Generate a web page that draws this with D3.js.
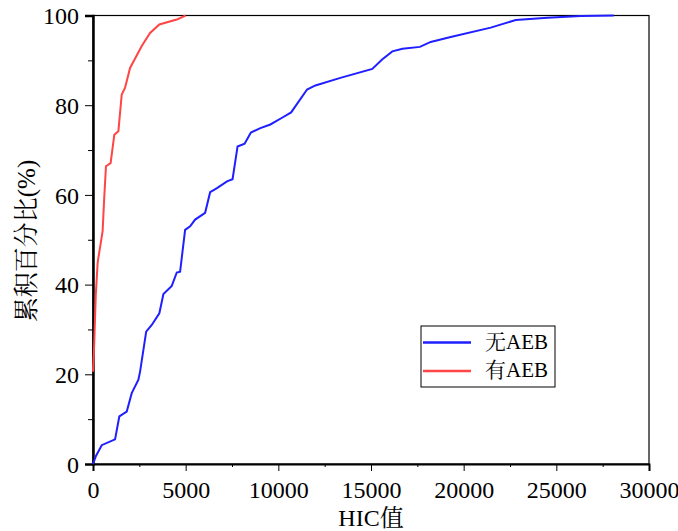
<!DOCTYPE html>
<html><head><meta charset="utf-8">
<script src="https://cdn.jsdelivr.net/npm/d3@7"></script>
<style>
body{margin:0;background:#fff;}
</style></head><body>
<svg id="c" width="678" height="531"></svg>
<script>
// Data
const seriesNames = ["无AEB", "有AEB"];
const seriesColors = ["#1f1fff", "#ff4545"];
const blueHIC = [0,160,470,1190,1420,1820,2090,2450,2540,2870,3170,3580,3800,4250,4520,4700,4970,5240,5510,6050,6320,6690,7230,7530,7800,8180,8520,9030,9570,10200,10690,11550,12000,13350,15070,15600,16150,16700,17640,18220,19300,21460,22810,24520,26320,28100];
const bluePct = [0,1.8,4.2,5.5,10.6,11.7,15.8,18.8,20.6,29.5,31,33.6,37.9,39.7,42.7,42.9,52.2,53,54.5,56,60.6,61.5,63,63.5,70.8,71.4,73.9,74.9,75.7,77.2,78.4,83.5,84.4,86.1,88.1,90.2,92,92.6,93,94.1,95.2,97.3,99,99.5,99.9,100];
const redHIC = [0,50,150,250,290,420,520,600,700,950,1150,1370,1550,1730,2000,2630,3080,3580,4520,5000];
const redPct = [20.6,25,37.7,44.8,46,49.3,52,58.9,66.4,67.1,73.4,74.2,82.4,83.9,88.3,93.2,96.1,98,99.1,100];
const xTicks = [0,5000,10000,15000,20000,25000,30000];
const xMinor = [2500,7500,12500,17500,22500,27500];
const yTicks = [0,20,40,60,80,100];
const yMinor = [10,30,50,70,90];
const xTitle = "HIC值";
const yTitle = "累积百分比(%)";

const FONT = "'Liberation Serif', 'Noto Serif CJK SC', 'Noto Sans CJK SC', serif";
const svg = d3.select("#c");
const L=93, R=649, T=15.5, B=464;
const x = d3.scaleLinear().domain([0,30000]).range([L,R]);
const y = d3.scaleLinear().domain([0,100]).range([B,T]);

// frame
svg.append("rect").attr("x",L).attr("y",T).attr("width",R-L).attr("height",B-T)
  .attr("fill","none").attr("stroke","#000").attr("stroke-width",1.2);

// x axis
const xa = svg.append("g").attr("transform",`translate(0,${B})`)
  .call(d3.axisBottom(x).tickValues(xTicks).tickSize(7).tickPadding(10).tickFormat(d3.format("d")));
xa.select(".domain").attr("stroke-width",2);
xa.selectAll("text").attr("font-family",FONT).attr("font-size",24).attr("fill","#000");
svg.append("g").attr("transform",`translate(0,${B})`)
  .call(d3.axisBottom(x).tickValues(xMinor).tickSize(3).tickFormat(""))
  .select(".domain").remove();

// y axis
const ya = svg.append("g").attr("transform",`translate(${L},0)`)
  .call(d3.axisLeft(y).tickValues(yTicks).tickSize(8).tickPadding(6));
ya.select(".domain").attr("stroke-width",2.5);
ya.selectAll("text").attr("font-family",FONT).attr("font-size",24).attr("fill","#000").attr("dy","0.34em");
svg.append("g").attr("transform",`translate(${L},0)`)
  .call(d3.axisLeft(y).tickValues(yMinor).tickSize(5).tickFormat(""))
  .select(".domain").remove();

// lines
const line = d3.line().x(d=>x(d[0])).y(d=>y(d[1]));
const blue = blueHIC.map((h,i)=>[h,bluePct[i]]);
const red = redHIC.map((h,i)=>[h,redPct[i]]);
svg.append("path").datum(blue).attr("d",line).attr("fill","none")
  .attr("stroke",seriesColors[0]).attr("stroke-width",2);
svg.append("path").datum(red).attr("d",line).attr("fill","none")
  .attr("stroke",seriesColors[1]).attr("stroke-width",2);

// titles
svg.append("text").attr("x",(L+R)/2).attr("y",526).attr("text-anchor","middle")
  .attr("font-family",FONT).attr("font-size",24).text(xTitle);
svg.append("text").attr("transform",`translate(35,241) rotate(-90)`)
  .attr("text-anchor","middle").attr("font-family",FONT).attr("font-size",25).text(yTitle);

// legend
const lg = svg.append("g");
lg.append("rect").attr("x",421).attr("y",326).attr("width",134).attr("height",61)
  .attr("fill","#fff").attr("stroke","#000").attr("stroke-width",1);
seriesNames.forEach((n,i)=>{
  const yy = 342.5 + i*28.5;
  lg.append("line").attr("x1",423).attr("x2",471).attr("y1",yy).attr("y2",yy)
    .attr("stroke",seriesColors[i]).attr("stroke-width",2.5);
  lg.append("text").attr("x",485).attr("y",yy+6).attr("font-family",FONT).attr("font-size",21).text(n);
});
</script></body></html>
